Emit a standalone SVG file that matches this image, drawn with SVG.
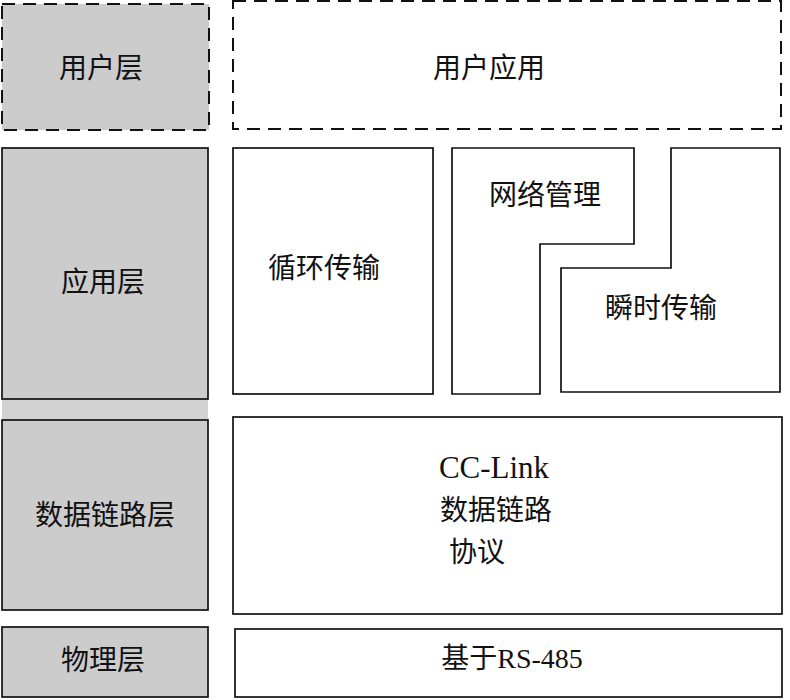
<svg xmlns="http://www.w3.org/2000/svg" width="790" height="700" viewBox="0 0 790 700">
<style>
.g{fill:#cccccc;stroke:#111;stroke-width:1.7}
.w{fill:#fff;stroke:#111;stroke-width:1.7}
.d{stroke-dasharray:13 8;stroke-width:2}
text{font-family:"Liberation Serif","Noto Sans CJK SC",serif;font-size:28px;fill:#111;text-anchor:middle;dominant-baseline:central}
</style>
<rect width="790" height="700" fill="#fff"/>
<rect x="2" y="399" width="206" height="21" fill="#d2d2d2"/>
<g id="user-layer"><rect class="g d" x="2" y="4" width="207" height="126"/><text x="101" y="68">用户层</text></g>
<g id="user-app"><rect class="w d" x="233" y="1" width="548" height="128"/><text x="489" y="68">用户应用</text></g>
<g id="app-layer"><rect class="g" x="2" y="148" width="206" height="251"/><text x="103" y="282">应用层</text></g>
<g id="cyclic"><rect class="w" x="233" y="148" width="200" height="246"/><text x="324" y="268">循环传输</text></g>
<g id="netmgmt"><polygon class="w" points="452,148 634,148 634,244 540,244 540,394 452,394"/><text x="545" y="195">网络管理</text></g>
<g id="transient"><polygon class="w" points="671,148 780,148 780,392 561,392 561,268 671,268"/><text x="661" y="308">瞬时传输</text></g>
<g id="dl-layer"><rect class="g" x="2" y="420" width="206" height="190"/><text x="105" y="515">数据链路层</text></g>
<g id="cclink"><rect class="w" x="233" y="417" width="549" height="197"/><text x="494" y="467" style="font-size:31px">CC-Link</text><text x="496" y="510">数据链路</text><text x="477" y="552">协议</text></g>
<g id="phy-layer"><rect class="g" x="2" y="627" width="206" height="70"/><text x="103" y="660">物理层</text></g>
<g id="rs485"><rect class="w" x="235" y="629" width="547" height="68"/><text x="512" y="658">基于RS-485</text></g>
<g id="connectors"></g>
</svg>
